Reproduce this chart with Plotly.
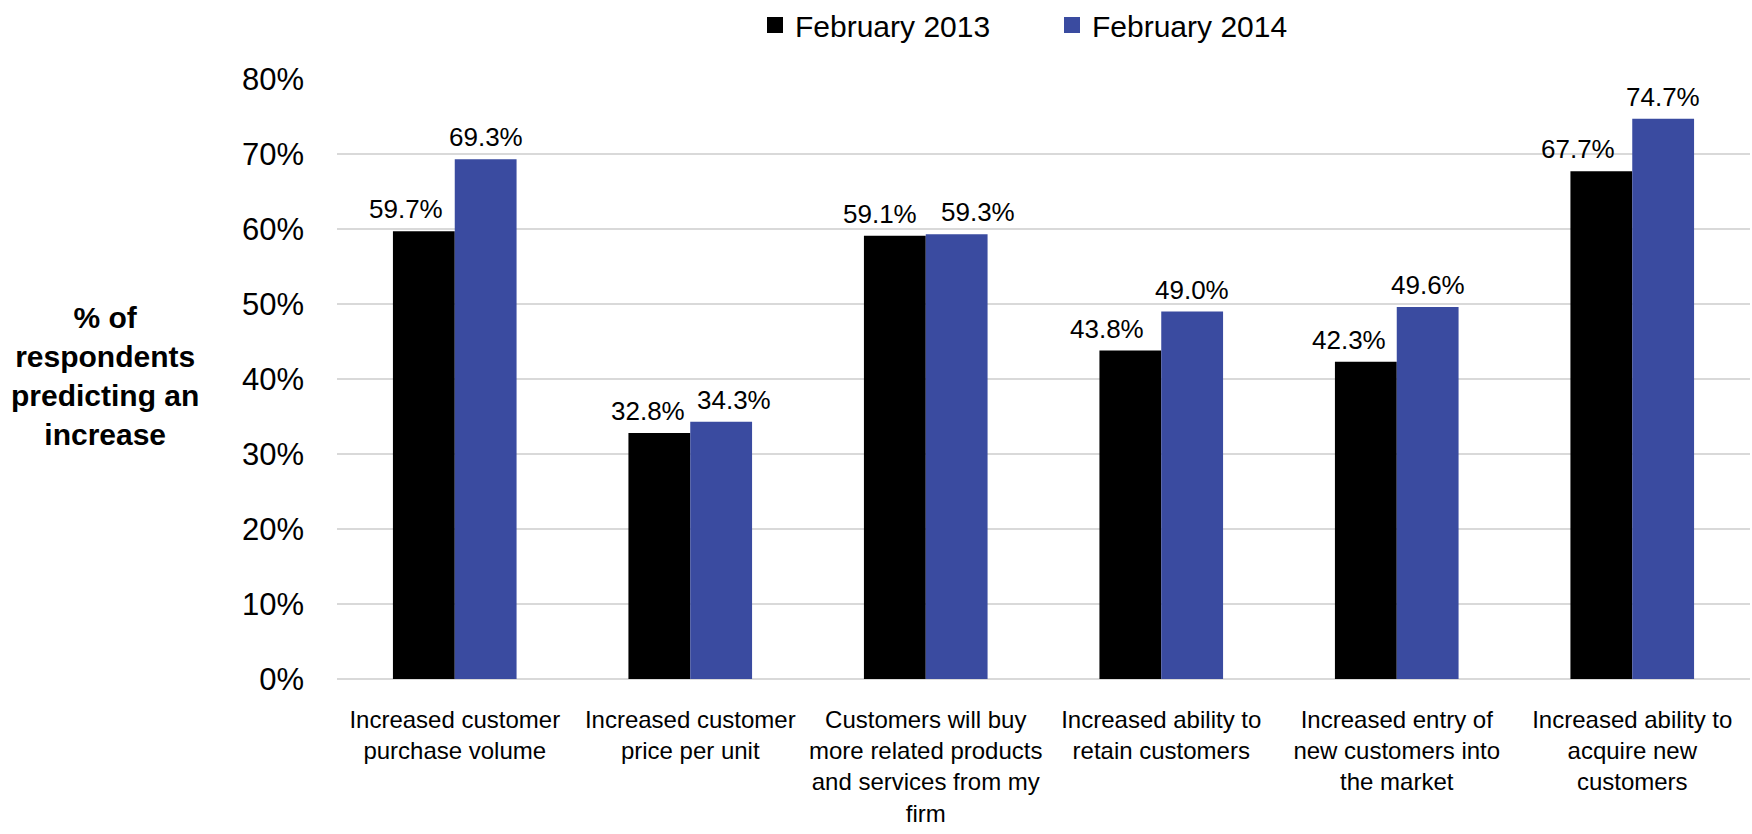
import plotly.graph_objects as go

categories = [
    "Increased customer<br>purchase volume",
    "Increased customer<br>price per unit",
    "Customers will buy<br>more related products<br>and services from my<br>firm",
    "Increased ability to<br>retain customers",
    "Increased entry of<br>new customers into<br>the market",
    "Increased ability to<br>acquire new<br>customers",
]
series_names = ["February 2013", "February 2014"]
feb_2013 = [59.7, 32.8, 59.1, 43.8, 42.3, 67.7]
feb_2014 = [69.3, 34.3, 59.3, 49.0, 49.6, 74.7]
y_ticks = [0, 10, 20, 30, 40, 50, 60, 70, 80]
y_tick_labels = [f"{v}%" for v in y_ticks]

# Layout settings
FONT = "Liberation Sans, Arial, sans-serif"
COLORS = ["#000000", "#3A4BA0"]
WIDTH, HEIGHT = 1752, 834
MARGIN = dict(l=337, r=2, t=79, b=155)
BARGAP = 0.475
# horizontal pixel nudges of the value labels so neighbouring labels don't collide
label_nudge = [
    [-18, -11, -15, -23, -17, -23],
    [0, 13, 21, 0, 0, 0],
]

plot_w = WIDTH - MARGIN["l"] - MARGIN["r"]
cat_w = plot_w / len(categories)
bar_w = cat_w * (1 - BARGAP) / 2

fig = go.Figure()
for k, (name, vals) in enumerate(zip(series_names, [feb_2013, feb_2014])):
    fig.add_trace(go.Bar(
        name=name, x=categories, y=vals,
        marker=dict(color=COLORS[k], line=dict(width=0)),
        showlegend=False,
    ))
    # legend entry with a larger square swatch
    fig.add_trace(go.Scatter(
        name=name, x=[None], y=[None], mode="markers",
        marker=dict(symbol="square", size=19, color=COLORS[k]),
        showlegend=True,
    ))

annotations = []
for k, vals in enumerate([feb_2013, feb_2014]):
    centre = (k - 0.5) * bar_w
    for i, v in enumerate(vals):
        annotations.append(dict(
            x=categories[i], y=v, xref="x", yref="y",
            text=f"{v:.1f}%", showarrow=False,
            xanchor="center", yanchor="bottom",
            xshift=centre + label_nudge[k][i], yshift=5,
            font=dict(family=FONT, size=26, color="#000000"),
        ))

annotations.append(dict(
    text="<b>% of<br>respondents<br>predicting an<br>increase</b>",
    xref="paper", yref="paper",
    x=(105 - MARGIN["l"]) / plot_w, y=0.505,
    xanchor="center", yanchor="middle", showarrow=False,
    font=dict(family=FONT, size=30, color="#000000"),
))

fig.update_layout(
    width=WIDTH, height=HEIGHT,
    margin=MARGIN,
    paper_bgcolor="white", plot_bgcolor="white",
    barmode="group", bargap=BARGAP, bargroupgap=0,
    font=dict(family=FONT, color="#000000"),
    legend=dict(
        orientation="h", xref="container", yref="container",
        x=1052 / WIDTH, xanchor="center",
        y=1 - 25 / HEIGHT, yanchor="middle",
        font=dict(family=FONT, size=30),
        traceorder="normal",
        entrywidth=252, entrywidthmode="pixels",
    ),
    xaxis=dict(
        tickfont=dict(family=FONT, size=24),
        showline=False, ticks="", ticklabelstandoff=24,
    ),
    yaxis=dict(
        range=[0, 80], tickvals=y_ticks, ticktext=y_tick_labels,
        tickfont=dict(family=FONT, size=31),
        showgrid=True, gridcolor="#D9D9D9", gridwidth=1.5,
        zeroline=True, zerolinecolor="#D9D9D9", zerolinewidth=1.5,
        ticks="", ticklabelstandoff=32,
    ),
    annotations=annotations,
)

fig.write_html("out.html")
